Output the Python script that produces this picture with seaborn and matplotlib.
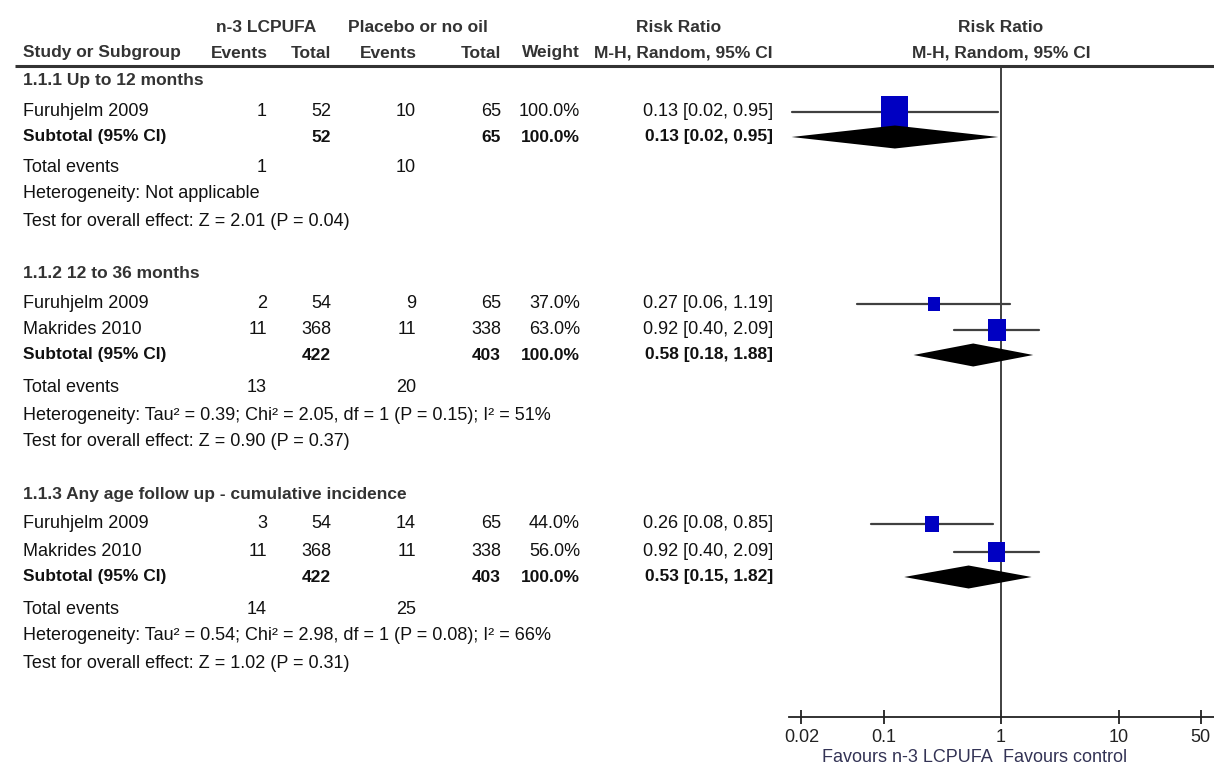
import numpy as np
import pandas as pd
import matplotlib
matplotlib.use("Agg")
import matplotlib.pyplot as plt
from matplotlib.path import Path
import seaborn as sns

# ---------------- data ----------------
groups = ["1.1.1 Up to 12 months", "1.1.2 12 to 36 months",
          "1.1.3 Any age follow up - cumulative incidence"]
studies = [["Furuhjelm 2009"],
           ["Furuhjelm 2009", "Makrides 2010"],
           ["Furuhjelm 2009", "Makrides 2010"]]
ev_t = [[1], [2, 11], [3, 11]]
n_t = [[52], [54, 368], [54, 368]]
ev_c = [[10], [9, 11], [14, 11]]
n_c = [[65], [65, 338], [65, 338]]
weights = [[100.0], [37.0, 63.0], [44.0, 56.0]]
rr = [[0.125], [0.27, 0.92], [0.26, 0.92]]
rr_lo = [[0.0165], [0.06, 0.40], [0.078, 0.40]]
rr_hi = [[0.95], [1.19, 2.09], [0.85, 2.09]]
rr_txt = [["0.13 [0.02, 0.95]"],
          ["0.27 [0.06, 1.19]", "0.92 [0.40, 2.09]"],
          ["0.26 [0.08, 0.85]", "0.92 [0.40, 2.09]"]]
sub_n_t = [52, 422, 422]
sub_n_c = [65, 403, 403]
sub_rr = [0.125, 0.58, 0.53]
sub_lo = [0.0165, 0.18, 0.15]
sub_hi = [0.95, 1.88, 1.82]
sub_txt = ["0.13 [0.02, 0.95]", "0.58 [0.18, 1.88]", "0.53 [0.15, 1.82]"]
tot_ev_t = [1, 13, 14]
tot_ev_c = [10, 20, 25]
het_txt = ["Heterogeneity: Not applicable",
           "Heterogeneity: Tau² = 0.39; Chi² = 2.05, df = 1 (P = 0.15); I² = 51%",
           "Heterogeneity: Tau² = 0.54; Chi² = 2.98, df = 1 (P = 0.08); I² = 66%"]
test_txt = ["Test for overall effect: Z = 2.01 (P = 0.04)",
            "Test for overall effect: Z = 0.90 (P = 0.37)",
            "Test for overall effect: Z = 1.02 (P = 0.31)"]
xticks = [0.02, 0.1, 1, 10, 50]
xtick_labels = ["0.02", "0.1", "1", "10", "50"]
fav_left = "Favours n-3 LCPUFA"
fav_right = "Favours control"

# ---------------- layout (pixels) ----------------
W, H = 1214, 767
grp_rows = [
    dict(title=81, studies=[112], sub=137, tot=167, het=194, test=221),
    dict(title=273, studies=[304, 330], sub=355, tot=388, het=415, test=441),
    dict(title=495, studies=[524, 552], sub=577, tot=609, het=636, test=663),
]
x_study = 23
x_ev_t, x_n_t, x_ev_c, x_n_c, x_w, x_ci = 267, 331, 416, 501, 580, 773
axis_y = 717
top_y = 66
fp_left, fp_right = 789, 1214
px_per_dec = 117.5
x_one = 1001
FS = 13
FSB = 12.5

sns.set_theme(style="white")
FONT = ["Liberation Sans Narrow", "Liberation Sans", "DejaVu Sans"]
plt.rcParams["font.family"] = FONT
plt.rcParams["font.size"] = FS

fig = plt.figure(figsize=(W / 100, H / 100), dpi=100)
fig.patch.set_facecolor("white")

ax = fig.add_axes([0, 0, 1, 1])
ax.set_xlim(0, W)
ax.set_ylim(H, 0)
ax.axis("off")

TXT = "#111111"

def t(x, y, s, ha="left", bold=False, color=TXT):
    ax.text(x, y, s, ha=ha, va="center", fontsize=FSB if bold else FS,
            fontweight="bold" if bold else "normal", color=color)

# headers
hb = dict(bold=True, color="#333333")
t(266, 27, "n-3 LCPUFA", ha="center", **hb)
t(418, 27, "Placebo or no oil", ha="center", **hb)
t(679, 27, "Risk Ratio", ha="center", **hb)
t(1001, 27, "Risk Ratio", ha="center", **hb)
t(x_study, 53, "Study or Subgroup", **hb)
t(239, 53, "Events", ha="center", **hb)
t(x_n_t, 53, "Total", ha="right", **hb)
t(388, 53, "Events", ha="center", **hb)
t(x_n_c, 53, "Total", ha="right", **hb)
t(x_w, 53, "Weight", ha="right", **hb)
t(x_ci, 53, "M-H, Random, 95% CI", ha="right", **hb)
t(1001, 53, "M-H, Random, 95% CI", ha="center", **hb)
ax.plot([15, W], [top_y, top_y], color="#333333", lw=2.2, solid_capstyle="butt")

for g in range(len(groups)):
    r = grp_rows[g]
    t(x_study, r["title"], groups[g], bold=True, color="#333333")
    for i, s in enumerate(studies[g]):
        y = r["studies"][i]
        t(x_study, y, s)
        t(x_ev_t, y, str(ev_t[g][i]), ha="right")
        t(x_n_t, y, str(n_t[g][i]), ha="right")
        t(x_ev_c, y, str(ev_c[g][i]), ha="right")
        t(x_n_c, y, str(n_c[g][i]), ha="right")
        t(x_w, y, f"{weights[g][i]:.1f}%", ha="right")
        t(x_ci, y, rr_txt[g][i], ha="right")
    y = r["sub"]
    t(x_study, y, "Subtotal (95% CI)", bold=True)
    t(x_n_t, y, str(sub_n_t[g]), ha="right", bold=True)
    t(x_n_c, y, str(sub_n_c[g]), ha="right", bold=True)
    t(x_w, y, "100.0%", ha="right", bold=True)
    t(x_ci, y, sub_txt[g], ha="right", bold=True)
    t(x_study, r["tot"], "Total events")
    t(x_ev_t, r["tot"], str(tot_ev_t[g]), ha="right")
    t(x_ev_c, r["tot"], str(tot_ev_c[g]), ha="right")
    t(x_study, r["het"], het_txt[g])
    t(x_study, r["test"], test_txt[g])

# ---------------- forest panel ----------------
lo_dec = (fp_left - x_one) / px_per_dec
hi_dec = (fp_right - x_one) / px_per_dec
fx = fig.add_axes([fp_left / W, (H - axis_y) / H,
                   (fp_right - fp_left) / W, (axis_y - top_y) / H])
fx.set_xscale("log")
fx.set_xlim(10 ** lo_dec, 10 ** hi_dec)
fx.set_ylim(axis_y, top_y)
fx.patch.set_alpha(0)
for sp in ["top", "left", "right"]:
    fx.spines[sp].set_visible(False)
fx.spines["bottom"].set_color("#222222")
fx.spines["bottom"].set_linewidth(1.3)
fx.set_yticks([])
fx.set_xticks(xticks)
fx.set_xticklabels(xtick_labels)
fx.xaxis.set_minor_locator(matplotlib.ticker.NullLocator())
fx.tick_params(axis="x", direction="inout", length=10, width=1.3,
               color="#222222", labelsize=FS, labelcolor="#222222", pad=4,
               bottom=True)

fx.plot([1, 1], [top_y, axis_y], color="#333333", lw=1.3, zorder=1)

rows = []
for g in range(len(groups)):
    for i in range(len(studies[g])):
        rows.append(dict(y=grp_rows[g]["studies"][i], rr=rr[g][i],
                         lo=rr_lo[g][i], hi=rr_hi[g][i], w=weights[g][i]))
df = pd.DataFrame(rows)
for _, rw in df.iterrows():
    fx.plot([rw.lo, rw.hi], [rw.y, rw.y], color="#404040", lw=1.6, zorder=2)

# slightly tall rectangle marker (height = 1.15 * width)
ASP = 1.15
rect_marker = Path([(-1 / ASP, -1), (1 / ASP, -1), (1 / ASP, 1), (-1 / ASP, 1), (-1 / ASP, -1)],
                   [Path.MOVETO, Path.LINETO, Path.LINETO, Path.LINETO, Path.CLOSEPOLY])
width_px = 4 + 0.23 * df["w"].to_numpy()
height_px = width_px * ASP
sns.scatterplot(data=df, x="rr", y="y", marker=rect_marker, s=(height_px * 0.72) ** 2,
                color="#0000c2", edgecolor="none", linewidth=0, ax=fx,
                legend=False, zorder=3)
fx.set_xlabel("")
fx.set_ylabel("")

for g in range(len(groups)):
    y = grp_rows[g]["sub"]
    fx.fill([sub_lo[g], sub_rr[g], sub_hi[g], sub_rr[g]],
            [y, y - 11.5, y, y + 11.5], color="black", lw=0, zorder=4)

ax.text(993, 758, fav_left, ha="right", va="center", fontsize=FS, color="#333355")
ax.text(1003, 758, fav_right, ha="left", va="center", fontsize=FS, color="#333355")

fig.savefig("out.png", dpi=100, facecolor="white")
